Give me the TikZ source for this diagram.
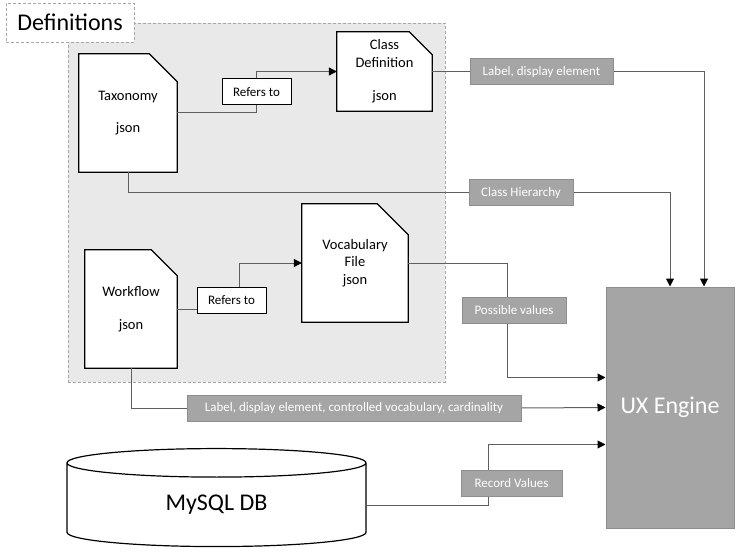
\documentclass[tikz,border=0pt]{standalone}
\usepackage{fontspec}
\setmainfont{Carlito}
\usepackage{tikz}
\usetikzlibrary{arrows.meta,positioning,shapes.geometric}
\definecolor{boxgray}{HTML}{A5A5A5}
\definecolor{edgegray}{HTML}{8E8E8E}
\definecolor{areagray}{HTML}{E9E9E9}
\definecolor{dashgray}{HTML}{A6A6A6}
\definecolor{wiregray}{HTML}{5F5F5F}
\tikzset{
  area/.style={draw=dashgray, dash pattern=on 3pt off 2pt, line width=0.8pt,
               fill=areagray, minimum width=377pt, minimum height=359pt},
  title/.style={draw=dashgray, dash pattern=on 3pt off 2pt, line width=0.8pt,
                fill=white, minimum width=128pt, minimum height=39pt,
                font=\fontsize{24}{28}\selectfont},
  doc/.style={align=center, inner sep=0pt,
              font=\fontsize{14.5}{17.5}\selectfont,
              append after command={\pgfextra{
                \draw[line width=1.2pt, fill=white] (\tikzlastnode.south west)
                  -- (\tikzlastnode.north west)
                  -- ([xshift=-#1]\tikzlastnode.north east)
                  -- ([yshift=-#1]\tikzlastnode.north east)
                  -- (\tikzlastnode.south east) -- cycle;}}},
  refbox/.style={draw, line width=1pt, fill=white, inner sep=0pt,
                 minimum width=69pt, minimum height=26pt,
                 font=\fontsize{13}{15}\selectfont},
  lbl/.style={draw=edgegray, line width=1pt, fill=boxgray, text=white,
              inner sep=0pt, minimum height=26pt,
              font=\fontsize{13}{15}\selectfont},
  engine/.style={draw=edgegray, line width=1pt, fill=boxgray, text=white,
                 minimum width=128pt, minimum height=241pt,
                 font=\fontsize{24}{28}\selectfont},
  dbx/.style={cylinder, shape border rotate=90, aspect=0.28, draw,
              line width=1.2pt, fill=white, inner sep=0pt,
              minimum width=299pt, minimum height=98pt,
              font=\fontsize{24}{28}\selectfont},
  wire/.style={draw=wiregray, line width=1pt},
  flow/.style={wire, -{Triangle[length=8pt, width=8pt, color=black]}},
}
\begin{document}
\begin{tikzpicture}[x=1pt, y=-1pt]
  \useasboundingbox (0,0) rectangle (736,556);
  \node[area] (defs) at (256.5,202.5) {};
  \node[title] (deftitle) at (70,22.5) {Definitions};

  \node[doc=28pt, minimum width=98pt, minimum height=118pt]
    (taxonomy) at (128,113) {Taxonomy\\[15pt]json};
  \node[doc=23pt, minimum width=95pt, minimum height=79pt]
    (classdef) at (384.5,71.5) {Class\\Definition\\[16pt]json};
  \node[doc=31pt, minimum width=106pt, minimum height=118pt]
    (vocab) at (355,263) {Vocabulary\\File\\json};
  \node[doc=26pt, minimum width=92pt, minimum height=118pt]
    (workflow) at (131,309) {Workflow\\[16pt]json};
  \node[refbox] (refers1) at (256.5,92) {Refers to};
  \node[refbox] (refers2) at (231.5,300.5) {Refers to};

  \node[engine] (ux) at (670,407.5) {UX Engine};
  \node[dbx] (mysql) at (216.5,505) {MySQL DB};

  \node[lbl, minimum width=143pt] (lbldisplay) at (541.5,72) {Label, display element};
  \node[lbl, minimum width=104pt] (lblhier) at (521,193) {Class Hierarchy};
  \node[lbl, minimum width=104pt] (lblposs) at (514,310) {Possible values};
  \node[lbl, minimum width=334pt] (lblfull) at (354,408)
    {Label, display element, controlled vocabulary, cardinality};
  \node[lbl, minimum width=101pt] (lblrecord) at (511.5,483) {Record Values};

  \draw[wire] (taxonomy.east) -| (refers1.south);
  \draw[flow] (refers1.north) |- (classdef.west);
  \draw[wire] (workflow.east) -- (workflow.east -| refers2.west);
  \draw[flow] ([xshift=8pt]refers2.north) |- (vocab.west);

  \draw[wire] (classdef.east) -- (classdef.east -| lbldisplay.west);
  \draw[flow] (lbldisplay.east) -| ([xshift=34pt]ux.north);
  \draw[wire] (taxonomy.south) |- (lblhier.west);
  \draw[flow] (lblhier.east) -| (ux.north);
  \draw[wire] (vocab.east) -| ([xshift=-7pt]lblposs.north);
  \draw[flow] ([xshift=-7pt]lblposs.south) |- ([yshift=30pt]ux.west);
  \draw[wire] (workflow.south) |- (lblfull.west);
  \draw[flow] (lblfull.east) -- (ux.west);
  \draw[wire] (mysql.east) -| ([xshift=-23pt]lblrecord.south);
  \draw[flow] ([xshift=-23pt]lblrecord.north) |- ([yshift=-37pt]ux.west);
\end{tikzpicture}
\end{document}
